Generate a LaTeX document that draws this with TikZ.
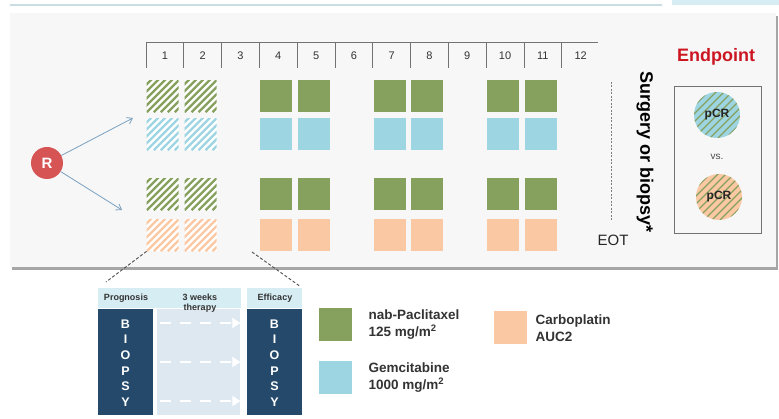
\documentclass[tikz,border=0pt]{standalone}
\usepackage{fontspec}
\setmainfont{Liberation Sans}
\usetikzlibrary{arrows.meta,positioning}

\definecolor{nabgreen}{RGB}{134,160,94}
\definecolor{gemblue}{RGB}{157,213,226}
\definecolor{carbo}{RGB}{251,200,164}
\definecolor{rred}{RGB}{214,84,84}
\definecolor{arrowblue}{RGB}{122,160,192}
\definecolor{navy}{RGB}{36,73,107}
\definecolor{hdrblue}{RGB}{214,237,244}
\definecolor{midblue}{RGB}{222,232,241}
\definecolor{panel}{RGB}{247,247,247}
\definecolor{endred}{RGB}{204,22,34}

\begin{document}
\begin{tikzpicture}[x=1pt, y=-1pt,
        sq/.style = {minimum size=32pt, inner sep=0pt, anchor=north west},
        hatch/.style = {sq, fill=white, path picture={
            \foreach \k in {-42,-35,...,35}
                \draw[#1, line width=2.3pt] ([xshift=\k pt]path picture bounding box.south west) -- ++(45pt,45pt);}},
        pcr/.style = {circle, minimum size=46pt, inner sep=0pt, fill=#1, path picture={
            \foreach \k in {-56,-48,...,48}
                \draw[nabgreen, line width=1.3pt] ([xshift=\k pt]path picture bounding box.south west) -- ++(60pt,60pt);},
            font=\bfseries\fontsize{12}{12}\selectfont, text=black!85},
        tick/.style = {black!55, line width=0.8pt},
        num/.style = {font=\fontsize{11}{11}\selectfont, text=black!80},
        arr/.style = {arrowblue, line width=0.8pt, -{Straight Barb[length=5pt,width=7pt]}},
        cut/.style = {black!70, line width=0.9pt, dash pattern=on 3pt off 2pt},
        hdr/.style = {fill=hdrblue, inner sep=0pt, anchor=north west, minimum height=20pt},
        col/.style = {fill=#1, inner sep=0pt, anchor=north west, minimum width=55pt, minimum height=106pt},
        hlab/.style = {font=\bfseries\fontsize{9}{10}\selectfont, text=black!80, align=center},
        letter/.style = {font=\bfseries\fontsize{12.5}{12.5}\selectfont, text=white},
        warr/.style = {white, line width=2.5pt, dash pattern=on 11pt off 9pt,
            -{Triangle[length=8pt,width=10pt]}},
        leg/.style = {font=\bfseries\fontsize{13.5}{17}\selectfont, text=black!80, align=left, inner sep=0pt}
    ]
    \useasboundingbox (0,0) rectangle (779,419);

    % top strip and panel
    \draw[hdrblue!85!gray, line width=1.5pt] (10,5) -- (662,5);
    \fill[hdrblue] (672,0) rectangle (779,5);
    \fill[black!35] (12,16) rectangle (778,270);
    \fill[panel] (10,13) rectangle (776,267);

    % timeline
    \draw[tick] (146,42) -- (598,42);
    \foreach \n in {1,...,12} {
        \draw[tick] ({146+37.8*(\n-1)},42) -- ++(0,26);
        \node[num] (n\n) at ({146+37.8*(\n-0.5)},56) {\n};
    }

    % cycles
    \foreach \c in {1,2} {
        \pgfmathsetmacro\xx{146.5+37.8*(\c-1)}
        \node[hatch=nabgreen] (ga\c) at (\xx,80) {};
        \node[hatch=gemblue] (ba\c) at (\xx,118) {};
        \node[hatch=nabgreen] (gb\c) at (\xx,178) {};
        \node[hatch=carbo] (o\c) at (\xx,219) {};
    }
    \foreach \c in {4,5,7,8,10,11} {
        \pgfmathsetmacro\xx{146.5+37.8*(\c-1)}
        \node[sq, fill=nabgreen] (ga\c) at (\xx,80) {};
        \node[sq, fill=gemblue] (ba\c) at (\xx,118) {};
        \node[sq, fill=nabgreen] (gb\c) at (\xx,178) {};
        \node[sq, fill=carbo] (o\c) at (\xx,219) {};
    }

    % randomisation
    \node[circle, fill=rred, minimum size=32pt, inner sep=0pt, text=white,
        font=\bfseries\fontsize{15}{15}\selectfont] (R) at (47,163) {R};
    \coordinate (armA) at (133,118);
    \coordinate (armB) at (122,210);
    \draw[arr] (R) -- (armA);
    \draw[arr] (R) -- (armB);

    % end of treatment
    \draw[black!50, line width=0.7pt, dash pattern=on 2pt off 1.5pt] (611,82) -- (611,220);
    \node[rotate=-90, font=\bfseries\fontsize{18}{18}\selectfont] (surg) at (645,152) {Surgery or biopsy*};
    \node[font=\fontsize{15}{15}\selectfont, text=black!85] (eot) at (613,240) {EOT};

    % endpoint
    \node[text=endred, font=\bfseries\fontsize{18}{18}\selectfont] (endp) at (716,57) {Endpoint};
    \node[draw=black!55, line width=0.8pt, minimum width=87pt, minimum height=147pt,
        inner sep=0pt, anchor=north west] (ebox) at (674,86) {};
    \node[pcr=gemblue] (pcrA) at (717,115) {pCR};
    \node[font=\fontsize{10}{10}\selectfont, text=black!70] (vs) at (717,157) {vs.};
    \node[pcr=carbo] (pcrB) at (719,197) {pCR};

    % biopsy window
    \node[hdr, minimum width=143pt] (hdra) at (98,288) {};
    \node[hdr, minimum width=55pt] (hdrb) at (247,288) {};
    \node[col=navy] (bl) at (98,309) {};
    \node[col=midblue, minimum width=83pt] (mid) at (157,309) {};
    \node[col=navy] (br) at (247,309) {};
    \node[hlab] (prog) at (126,298) {Prognosis};
    \node[hlab] (weeks) at (200,303) {3 weeks\\therapy};
    \node[hlab] (eff) at (275,298) {Efficacy};
    \foreach \l [count=\i] in {B,I,O,P,S,Y} {
        \node[letter] (bl\i) at (125.5,{324+15.6*(\i-1)}) {\l};
        \node[letter] (br\i) at (274.5,{324+15.6*(\i-1)}) {\l};
    }
    \foreach \yy in {323,362,401}
        \draw[warr] ([xshift=3pt]mid.west |- 0,\yy) -- (mid.east |- 0,\yy);

    \coordinate (cutA) at (252,252);
    \draw[cut, shorten >=10pt] (o1.south west) -- (hdra.north west);
    \draw[cut, shorten >=4pt] (cutA) -- (hdrb.north east);

    % legend
    \node[sq, fill=nabgreen, minimum size=33pt] (lg) at (319,308) {};
    \node[leg, right=16pt of lg] (lgt) {nab-Paclitaxel\\125 mg/m\textsuperscript{2}};
    \node[sq, fill=gemblue, minimum size=33pt] (lb) at (319,361) {};
    \node[leg, right=16pt of lb] (lbt) {Gemcitabine\\1000 mg/m\textsuperscript{2}};
    \node[sq, fill=carbo, minimum size=33pt] (lo) at (494,311) {};
    \node[leg, right=8pt of lo] (lot) {Carboplatin\\AUC2};
\end{tikzpicture}
\end{document}
